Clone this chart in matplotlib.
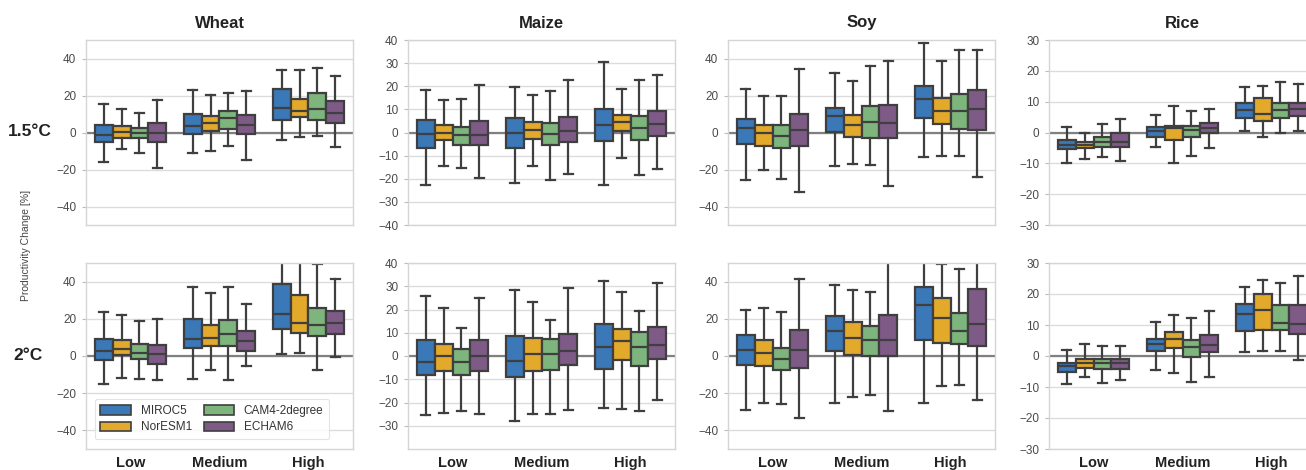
import matplotlib
matplotlib.use("Agg")
import matplotlib.pyplot as plt
from matplotlib.patches import Patch

plt.rcParams['font.family'] = ['Liberation Sans', 'DejaVu Sans']

crops = ["Wheat", "Maize", "Soy", "Rice"]
levels = ["1.5°C", "2°C"]
categories = ["Low", "Medium", "High"]
models = ["MIROC5", "NorESM1", "CAM4-2degree", "ECHAM6"]
colors = ["#3b78b8", "#e3a92b", "#7db57c", "#7e5b87"]

# each box: [whisker low, q1, median, q3, whisker high]; per category, 4 models
wheat_15 = [
    [[-16.2, -5.0, -1.4, 4.0, 15.6], [-9.0, -3.2, 0.5, 3.6, 12.6],
     [-11.3, -2.9, 0.0, 2.7, 10.8], [-19.4, -5.0, 0.0, 5.4, 17.8]],
    [[-11.3, -0.9, 3.6, 9.9, 22.8], [-9.9, 0.9, 4.9, 8.8, 20.1],
     [-7.2, 2.0, 7.6, 11.7, 21.4], [-14.6, -0.9, 4.0, 9.3, 22.5]],
    [[-3.8, 6.7, 13.3, 23.6, 33.6], [-2.3, 8.4, 11.5, 18.0, 33.6],
     [-1.8, 6.7, 12.6, 21.4, 35.1], [-7.7, 5.4, 10.8, 16.9, 30.6]],
]
wheat_20 = [
    [[-14.9, -2.0, 2.5, 9.3, 23.6], [-11.8, 0.4, 3.9, 8.4, 21.8],
     [-12.3, -1.4, 1.8, 6.6, 18.6], [-13.1, -4.1, 1.3, 5.7, 19.7]],
    [[-12.5, 4.3, 8.9, 19.7, 37.0], [-7.7, 5.4, 9.7, 16.5, 34.0],
     [-13.1, 5.4, 12.0, 19.1, 37.0], [-5.5, 2.5, 7.9, 13.4, 27.7]],
    [[1.3, 14.3, 22.4, 38.8, 52.0], [1.6, 12.3, 17.9, 32.9, 55.0],
     [-7.7, 10.6, 16.6, 26.0, 49.2], [-0.5, 11.6, 17.9, 24.2, 41.5]],
]
maize_15 = [
    [[-22.9, -6.6, -0.7, 5.6, 18.4], [-14.3, -3.3, 0.0, 3.4, 13.9],
     [-15.4, -5.4, -0.9, 2.4, 14.6], [-19.7, -5.4, -0.9, 5.0, 20.6]],
    [[-21.9, -6.9, 0.0, 6.3, 19.6], [-14.3, -3.0, 1.0, 4.6, 16.1],
     [-20.4, -5.4, -0.7, 4.1, 17.9], [-17.9, -4.3, 0.7, 6.7, 22.9]],
    [[-22.9, -3.6, 3.4, 10.3, 30.7], [-11.1, 0.6, 4.6, 7.7, 18.9],
     [-18.3, -3.3, 2.0, 7.0, 22.7], [-15.9, -1.6, 3.6, 9.1, 25.0]],
]
maize_20 = [
    [[-25.5, -8.3, -2.6, 6.7, 25.8], [-24.4, -6.6, -0.1, 5.3, 20.7],
     [-23.8, -8.3, -2.6, 3.2, 12.1], [-25.1, -6.5, -0.1, 7.0, 25.1]],
    [[-28.0, -9.0, -2.2, 8.5, 28.3], [-24.8, -6.6, 1.0, 7.7, 23.2],
     [-24.8, -6.2, 1.0, 7.5, 15.4], [-23.1, -3.7, 2.0, 9.3, 29.4]],
    [[-22.2, -5.5, 3.9, 13.9, 32.1], [-23.0, -1.9, 6.5, 11.8, 27.5],
     [-23.8, -4.3, 3.9, 10.3, 19.2], [-18.8, -1.1, 4.9, 12.5, 31.4]],
]
soy_15 = [
    [[-25.7, -6.3, 2.5, 7.2, 23.7], [-20.0, -7.4, -0.5, 4.0, 19.8],
     [-25.3, -8.6, -2.0, 4.3, 19.8], [-32.0, -7.4, 1.6, 10.2, 34.5]],
    [[-18.2, 0.4, 8.8, 13.5, 32.4], [-17.1, -2.3, 4.0, 9.7, 27.9],
     [-17.6, -3.2, 5.8, 14.2, 35.8], [-28.8, -3.2, 5.2, 14.7, 38.5]],
    [[-13.1, 7.9, 18.3, 25.0, 48.4], [-12.6, 4.5, 11.7, 18.7, 38.7],
     [-12.6, 2.0, 11.7, 21.0, 44.8], [-24.3, 1.6, 12.6, 23.2, 44.4]],
]
soy_20 = [
    [[-28.8, -5.0, 3.4, 11.1, 24.9], [-25.1, -5.4, 1.6, 8.4, 25.8],
     [-26.0, -7.7, -1.4, 4.5, 23.6], [-33.3, -6.3, 3.0, 13.8, 41.5]],
    [[-25.1, 2.7, 13.4, 21.5, 38.3], [-22.0, 0.7, 9.7, 18.3, 35.3],
     [-21.1, 0.0, 8.8, 15.9, 34.4], [-29.5, 0.0, 8.8, 21.8, 52.0]],
    [[-25.1, 8.4, 27.2, 37.0, 55.0], [-16.3, 7.0, 20.4, 31.3, 49.2],
     [-15.4, 6.3, 13.2, 23.3, 46.9], [-23.8, 5.2, 17.4, 36.2, 56.0]],
]
rice_15 = [
    [[-10.0, -5.5, -4.1, -2.3, 1.8], [-8.7, -5.1, -4.1, -3.0, 0.0],
     [-8.0, -4.6, -3.0, -1.4, 2.7], [-9.2, -4.6, -3.0, -0.3, 4.5]],
    [[-4.6, -1.4, 0.4, 1.8, 5.8], [-9.8, -2.5, 1.3, 2.1, 8.5],
     [-7.5, -1.6, 0.8, 2.1, 7.0], [-4.9, 0.0, 1.6, 3.1, 7.7]],
    [[0.4, 4.8, 7.2, 9.5, 14.7], [-1.4, 3.8, 6.1, 11.1, 15.2],
     [-0.1, 4.8, 7.2, 9.5, 16.5], [0.4, 5.3, 7.7, 9.5, 15.8]],
]
rice_20 = [
    [[-9.1, -5.1, -3.3, -2.1, 1.8], [-6.8, -3.8, -2.3, -0.9, 4.0],
     [-8.7, -4.3, -2.3, -0.9, 3.1], [-7.6, -4.1, -2.1, -1.1, 3.1]],
    [[-4.4, 1.6, 3.8, 5.6, 11.1], [-5.5, 2.6, 5.4, 7.9, 13.1],
     [-8.4, -0.3, 2.9, 5.3, 12.2], [-6.8, 1.3, 3.4, 6.9, 14.5]],
    [[1.3, 8.0, 13.4, 16.8, 22.4], [1.5, 8.5, 15.0, 20.0, 24.5],
     [1.6, 8.3, 10.6, 16.3, 23.6], [-1.4, 7.2, 10.4, 16.3, 25.9]],
]

panels = [[wheat_15, maize_15, soy_15, rice_15],
          [wheat_20, maize_20, soy_20, rice_20]]

ylims = [(-50, 50), (-40, 40), (-50, 50), (-30, 30)]
yticks = [[range(-40, 41, 20), range(-40, 41, 10), range(-40, 41, 20), range(-30, 31, 10)],
          [range(-40, 41, 20), range(-30, 41, 10), range(-40, 41, 20), range(-30, 31, 10)]]

W, H = 1306, 470
fig = plt.figure(figsize=(W / 100, H / 100), dpi=100)

lefts = [86, 408, 728, 1049]
axw = 267
rows = [(40, 225), (263, 449)]

edge = "#3f3f3f"
for r in range(2):
    top, bot = rows[r]
    for c in range(4):
        ax = fig.add_axes([lefts[c] / W, 1 - bot / H, axw / W, (bot - top) / H])
        data = panels[r][c]
        for m in range(4):
            stats = []
            pos = []
            for k in range(3):
                lo, q1, med, q3, hi = data[k][m]
                stats.append(dict(whislo=lo, q1=q1, med=med, q3=q3, whishi=hi, fliers=[]))
                pos.append(k - 0.3 + 0.2 * m)
            ax.bxp(stats, positions=pos, widths=0.2, capwidths=0.1, patch_artist=True,
                   showfliers=False,
                   boxprops=dict(facecolor=colors[m], edgecolor=edge, linewidth=1.6),
                   medianprops=dict(color=edge, linewidth=1.6),
                   whiskerprops=dict(color=edge, linewidth=1.6),
                   capprops=dict(color=edge, linewidth=1.6))
        ax.axhline(0, color="#808080", linewidth=1.6, zorder=1)
        ax.set_ylim(ylims[c])
        ax.set_xlim(-0.5, 2.5)
        ax.set_yticks(list(yticks[r][c]))
        ax.grid(axis="y", color="#dcdcdc", linewidth=1.0, zorder=0)
        ax.set_axisbelow(True)
        for s in ax.spines.values():
            s.set_color("#d5d5d5")
            s.set_linewidth(1.0)
        ax.tick_params(axis="y", labelsize=8.5, labelcolor="#4a4a4a", color="#bbbbbb",
                       length=3, width=0.8, pad=4)
        ax.set_xticks(range(3))
        if r == 1:
            ax.set_xticklabels(categories, fontsize=10.5, fontweight="bold", color="#222222")
            ax.tick_params(axis="x", length=0, pad=5)
        else:
            ax.set_xticklabels([])
            ax.tick_params(axis="x", length=0)
            ax.set_title(crops[c], fontsize=12, fontweight="bold", color="#222222", pad=9)
        if r == 1 and c == 0:
            handles = [Patch(facecolor=colors[i], edgecolor=edge, linewidth=1.2, label=models[i])
                       for i in range(4)]
            leg = ax.legend(handles=handles, loc="lower left", ncol=2, fontsize=8.5,
                            frameon=True, handlelength=2.6, handleheight=0.9,
                            columnspacing=1.0, borderpad=0.5, labelspacing=0.4,
                            bbox_to_anchor=(0.01, 0.02))
            leg.get_frame().set_edgecolor("#dddddd")
            leg.get_frame().set_linewidth(0.8)
            for t in leg.get_texts():
                t.set_color("#333333")

fig.text(30 / W, 1 - 132 / H, levels[0], fontsize=12.5, fontweight="bold",
         ha="center", va="center", color="#222222")
fig.text(28 / W, 1 - 355 / H, levels[1], fontsize=12.5, fontweight="bold",
         ha="center", va="center", color="#222222")
fig.text(26 / W, 1 - 245 / H, "Productivity Change [%]", fontsize=7.5, rotation=90,
         ha="center", va="center", color="#444444")

fig.savefig("out.png", dpi=100)
